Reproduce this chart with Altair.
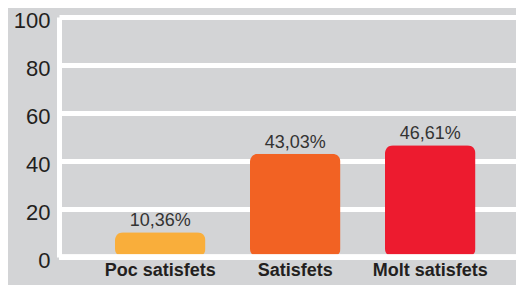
import altair as alt
import pandas as pd

categories = ["Poc satisfets", "Satisfets", "Molt satisfets"]
values = [10.36, 43.03, 46.61]
labels = ["10,36%", "43,03%", "46,61%"]
colors = ["#F9AE3B", "#F26223", "#ED1B2F"]
y_ticks = [0, 20, 40, 60, 80, 100]

df = pd.DataFrame({"cat": categories, "val": values, "lab": labels})

x = alt.X(
    "cat:N", sort=categories, title=None,
    scale=alt.Scale(paddingInner=0.33, paddingOuter=0.3575, align=0.58),
    axis=alt.Axis(labelAngle=0, labelFont="Liberation Sans", labelFontWeight="bold",
                  labelFontSize=18, labelColor="#231f20", domain=False, ticks=False,
                  labelPadding=4),
)
y = alt.Y(
    "val:Q", title=None, scale=alt.Scale(domain=[0, 100]),
    axis=alt.Axis(values=y_ticks, grid=True, gridColor="white", gridWidth=5,
                  gridOpacity=1, domainColor="white", domainWidth=5, ticks=False,
                  labelFontSize=22, labelColor="#231f20", labelFont="Liberation Sans",
                  labelPadding=9, labelOffset=3),
)

base = alt.Chart(df)
bars = base.mark_bar(cornerRadius=8).encode(
    x=x, y=y,
    color=alt.Color("cat:N", scale=alt.Scale(domain=categories, range=colors), legend=None),
)
text = base.mark_text(dy=-6, baseline="alphabetic", fontSize=18, color="#333333",
                      font="Liberation Sans").encode(x=x, y=y, text="lab:N")
zero = base.mark_rule(color="white", strokeWidth=5).encode(y=alt.datum(0))

chart = alt.layer(bars, text, zero).properties(
    width=457, height=240,
    autosize=alt.AutoSizeParams(type="none"),
    padding={"left": 51, "top": 9, "right": 0, "bottom": 28},
).configure(background="#d3d4d6").configure_view(stroke=None)

chart.save("out.html", embed_options={"renderer": "svg", "actions": False})
